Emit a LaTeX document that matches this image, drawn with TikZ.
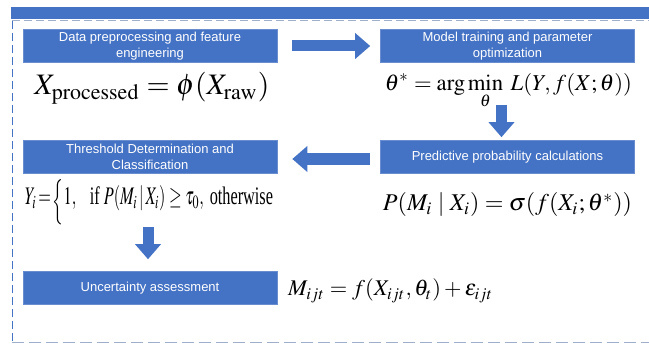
\documentclass[tikz,border=0pt]{standalone}
\usepackage{mathptmx}
\usepackage[no-math]{fontspec}
\setmainfont{Liberation Serif}
\newfontfamily\boxfont{Liberation Sans}
\usepackage{graphicx}
\usetikzlibrary{arrows.meta,positioning}

\definecolor{stepblue}{HTML}{4472C4}
\definecolor{edgeblue}{HTML}{6A8DD0}
\definecolor{framegrey}{HTML}{9FAECB}

\tikzset{
  stagebox/.style={fill=stepblue, draw=edgeblue, line width=0.6pt, minimum width=254pt,
    minimum height=33pt, text width=215pt, align=flush center, inner sep=0pt, text=white,
    font=\boxfont\fontsize{13}{15.5}\selectfont},
  formula/.style={inner sep=0pt, text=black},
  blockarrow/.style={stepblue, line width=#1, -{Triangle[length=15pt,width=25pt]}},
  blockarrow/.default=11pt
}

\begin{document}
\begin{tikzpicture}[x=1pt,y=-1pt]
\useasboundingbox (0,0) rectangle (649,344);
% frame
\fill[stepblue] (11,7) rectangle (649,19);
\draw[framegrey, line width=1pt, dash pattern=on 8pt off 4pt] (12,21) -- (649,21);
\draw[stepblue, line width=1pt, dash pattern=on 8pt off 4pt] (12,21) -- (12,343);
\draw[framegrey, line width=1pt, dash pattern=on 12pt off 5pt] (12,343) -- (649,343);

% stages
\node[stagebox] (prep) at (150,46) {Data preprocessing and feature engineering};
\node[stagebox] (train) at (507.5,46) {Model training and parameter optimization};
\node[stagebox] (prob) at (507.5,157) {Predictive probability calculations};
\node[stagebox] (thresh) at (150,157) {Threshold Determination and Classification};
\node[stagebox] (uncert) at (150,288) {Uncertainty assessment};

% formulas
\node[formula, anchor=base] (fprep) at (152,95)
  {\resizebox{235pt}{!}{$X_{\mathrm{processed}} = \phi(X_{\mathrm{raw}})$}};
\node[formula, anchor=base] (ftrain) at (508.5,91)
  {\resizebox{247pt}{!}{$\displaystyle \theta^{*} = \arg\min_{\theta}\; L(Y, f(X;\theta))$}};
\node[formula, anchor=base] (fprob) at (507.5,211)
  {\resizebox{249pt}{!}{$P(M_i \mid X_i) = \sigma(f(X_i;\theta^{*}))$}};
\node[formula, anchor=base] (fthresh) at (149,205)
  {\resizebox{248pt}{25pt}{$Y_i\,{=}\,\raisebox{-0.35ex}{$\Big\{$}1,\enspace\; \mbox{if } P(M_i \,|\, X_i) \geq \tau_0, \mbox{ otherwise}$}};
\node[formula, anchor=base west] (funcert) at (288,296)
  {\resizebox{205pt}{!}{$M_{ijt} = f(X_{ijt}, \theta_t) + \epsilon_{ijt}$}};

% flow
\draw[blockarrow] ([xshift=15pt]prep.east) -- ([xshift=-10pt]train.west);
\draw[blockarrow] ([xshift=-6pt,yshift=-42pt]train.south) -- ([xshift=-6pt,yshift=3pt]prob.north);
\draw[blockarrow=12pt] ([xshift=-10pt,yshift=-2pt]prob.west) -- ([xshift=15pt,yshift=-2pt]thresh.east);
\draw[blockarrow] ([xshift=-2pt,yshift=-53pt]thresh.south) -- ([xshift=-2pt,yshift=12pt]uncert.north);
\end{tikzpicture}
\end{document}
